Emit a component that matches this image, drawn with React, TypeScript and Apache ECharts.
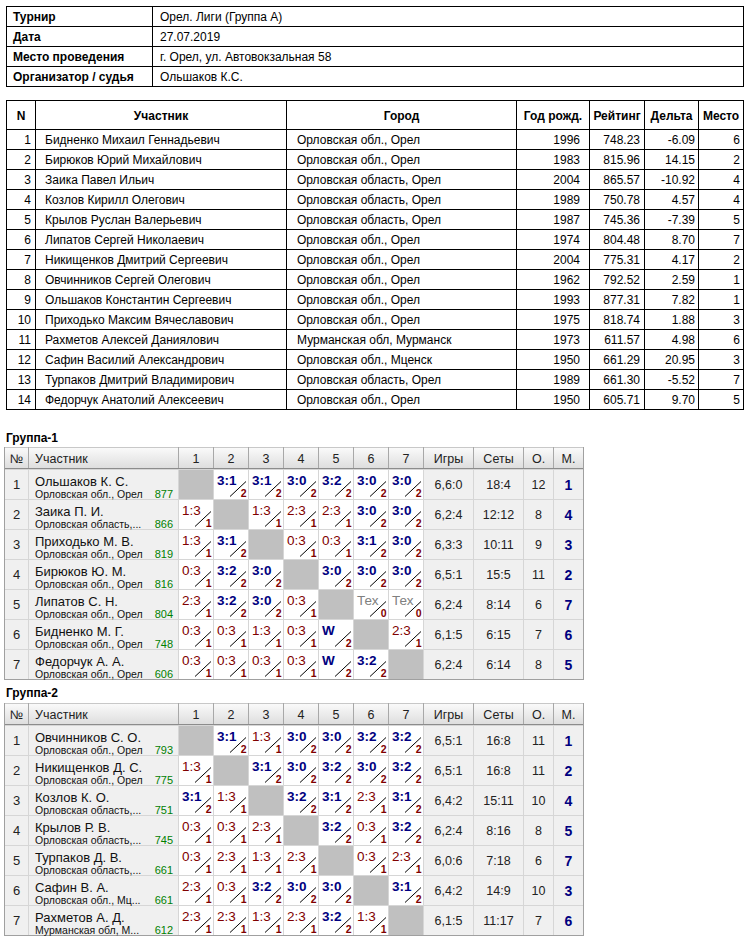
import React, { useEffect, useRef } from "react";
import * as echarts from "echarts";

// ---------- DATA ----------
const infoLabels = ["Турнир", "Дата", "Место проведения", "Организатор / судья"];
const infoValues = ["Орел. Лиги (Группа А)", "27.07.2019", "г. Орел, ул. Автовокзальная 58", "Ольшаков К.С."];

const mainHeaders = ["N", "Участник", "Город", "Год рожд.", "Рейтинг", "Дельта", "Место"];
const mainNames = [
  "Бидненко Михаил Геннадьевич",
  "Бирюков Юрий Михайлович",
  "Заика Павел Ильич",
  "Козлов Кирилл Олегович",
  "Крылов Руслан Валерьевич",
  "Липатов Сергей Николаевич",
  "Никищенков Дмитрий Сергеевич",
  "Овчинников Сергей Олегович",
  "Ольшаков Константин Сергеевич",
  "Приходько Максим Вячеславович",
  "Рахметов Алексей Даниялович",
  "Сафин Василий Александрович",
  "Турпаков Дмитрий Владимирович",
  "Федорчук Анатолий Алексеевич",
];
const mainCities = [
  "Орловская обл., Орел",
  "Орловская обл., Орел",
  "Орловская область, Орел",
  "Орловская область, Орел",
  "Орловская область, Орел",
  "Орловская обл., Орел",
  "Орловская обл., Орел",
  "Орловская обл., Орел",
  "Орловская обл., Орел",
  "Орловская обл., Орел",
  "Мурманская обл, Мурманск",
  "Орловская обл., Мценск",
  "Орловская область, Орел",
  "Орловская обл., Орел",
];
const mainYears = ["1996", "1983", "2004", "1989", "1987", "1974", "2004", "1962", "1993", "1975", "1973", "1950", "1989", "1950"];
const mainRatings = ["748.23", "815.96", "865.57", "750.78", "745.36", "804.48", "775.31", "792.52", "877.31", "818.74", "611.57", "661.29", "661.30", "605.71"];
const mainDeltas = ["-6.09", "14.15", "-10.92", "4.57", "-7.39", "8.70", "4.17", "2.59", "7.82", "1.88", "4.98", "20.95", "-5.52", "9.70"];
const mainPlaces = ["6", "2", "4", "4", "5", "7", "2", "1", "1", "3", "6", "3", "7", "5"];

const groupHeaders = ["№", "Участник", "1", "2", "3", "4", "5", "6", "7", "Игры", "Сеты", "О.", "М."];

const g1Title = "Группа-1";
const g1Names = ["Ольшаков К. С.", "Заика П. И.", "Приходько М. В.", "Бирюков Ю. М.", "Липатов С. Н.", "Бидненко М. Г.", "Федорчук А. А."];
const g1Cities = ["Орловская обл., Орел", "Орловская область,...", "Орловская обл., Орел", "Орловская обл., Орел", "Орловская обл., Орел", "Орловская обл., Орел", "Орловская обл., Орел"];
const g1Ratings = ["877", "866", "819", "816", "804", "748", "606"];
const g1Results = [
  ["", "3:1|2", "3:1|2", "3:0|2", "3:2|2", "3:0|2", "3:0|2"],
  ["1:3|1", "", "1:3|1", "2:3|1", "2:3|1", "3:0|2", "3:0|2"],
  ["1:3|1", "3:1|2", "", "0:3|1", "0:3|1", "3:1|2", "3:0|2"],
  ["0:3|1", "3:2|2", "3:0|2", "", "3:0|2", "3:0|2", "3:0|2"],
  ["2:3|1", "3:2|2", "3:0|2", "0:3|1", "", "Тех|0", "Тех|0"],
  ["0:3|1", "0:3|1", "1:3|1", "0:3|1", "W|2", "", "2:3|1"],
  ["0:3|1", "0:3|1", "0:3|1", "0:3|1", "W|2", "3:2|2", ""],
];
const g1Games = ["6,6:0", "6,2:4", "6,3:3", "6,5:1", "6,2:4", "6,1:5", "6,2:4"];
const g1Sets = ["18:4", "12:12", "10:11", "15:5", "8:14", "6:15", "6:14"];
const g1Points = ["12", "8", "9", "11", "6", "7", "8"];
const g1Places = ["1", "4", "3", "2", "7", "6", "5"];

const g2Title = "Группа-2";
const g2Names = ["Овчинников С. О.", "Никищенков Д. С.", "Козлов К. О.", "Крылов Р. В.", "Турпаков Д. В.", "Сафин В. А.", "Рахметов А. Д."];
const g2Cities = ["Орловская обл., Орел", "Орловская обл., Орел", "Орловская область,...", "Орловская область,...", "Орловская область,...", "Орловская обл., Мц...", "Мурманская обл, М..."];
const g2Ratings = ["793", "775", "751", "745", "661", "661", "612"];
const g2Results = [
  ["", "3:1|2", "1:3|1", "3:0|2", "3:0|2", "3:2|2", "3:2|2"],
  ["1:3|1", "", "3:1|2", "3:0|2", "3:2|2", "3:0|2", "3:2|2"],
  ["3:1|2", "1:3|1", "", "3:2|2", "3:1|2", "2:3|1", "3:1|2"],
  ["0:3|1", "0:3|1", "2:3|1", "", "3:2|2", "0:3|1", "3:2|2"],
  ["0:3|1", "2:3|1", "1:3|1", "2:3|1", "", "0:3|1", "2:3|1"],
  ["2:3|1", "0:3|1", "3:2|2", "3:0|2", "3:0|2", "", "3:1|2"],
  ["2:3|1", "2:3|1", "1:3|1", "2:3|1", "3:2|2", "1:3|1", ""],
];
const g2Games = ["6,5:1", "6,5:1", "6,4:2", "6,2:4", "6,0:6", "6,4:2", "6,1:5"];
const g2Sets = ["16:8", "16:8", "15:11", "8:16", "7:18", "14:9", "11:17"];
const g2Points = ["11", "11", "10", "8", "6", "10", "7"];
const g2Places = ["1", "2", "4", "5", "7", "3", "6"];

// ---------- LAYOUT / STYLE ----------
const FF = "'Liberation Sans', Arial, sans-serif";
const NAVY = "#000080";
const DRED = "#800000";
const GREEN = "#008000";

function buildElements() {
  const els: any[] = [];
  const rect = (x: number, y: number, w: number, h: number, fill: any, z = 1) =>
    els.push({ type: "rect", shape: { x, y, width: w, height: h }, style: { fill }, z, silent: true });
  const seg = (x1: number, y1: number, x2: number, y2: number, stroke: string, z = 4) =>
    els.push({ type: "line", shape: { x1, y1, x2, y2 }, style: { stroke, lineWidth: 1 }, z, silent: true });
  const text = (
    x: number,
    y: number,
    t: string,
    size: number,
    o: { fill?: string; bold?: boolean; align?: string } = {}
  ) =>
    els.push({
      type: "text",
      x,
      y,
      z: 6,
      silent: true,
      style: {
        text: t,
        fill: o.fill || "#000",
        font: `${o.bold ? "bold" : "normal"} ${size}px ${FF}`,
        textAlign: o.align || "left",
        textVerticalAlign: "middle",
        align: o.align || "left",
        verticalAlign: "middle",
      },
    });

  // ---- info table ----
  const iL = 6, iR = 743, iDiv = 152;
  const iRows = [6, 26, 46, 66, 86];
  rect(iL, iRows[0], iR - iL, iRows[4] - iRows[0], "#fff", 0);
  iRows.forEach((y) => rect(iL, y, iR - iL + 1, 1, "#000", 3));
  [iL, iDiv, iR].forEach((x) => rect(x, iRows[0], 1, iRows[4] - iRows[0], "#000", 3));
  infoLabels.forEach((l, i) => {
    const cy = iRows[i] + 10.5;
    text(13, cy, l, 12, { bold: true });
    text(160, cy, infoValues[i], 12);
  });

  // ---- main table ----
  const mCols = [6, 35, 286, 516, 589, 644, 698, 743];
  const mTop = 100, mHead = 129, mRowH = 20;
  const mBottom = mHead + mRowH * mainNames.length;
  rect(mCols[0], mTop, mCols[7] - mCols[0], mBottom - mTop, "#fff", 0);
  rect(mCols[0], mTop, mCols[7] - mCols[0] + 1, 1, "#000", 3);
  for (let i = 0; i <= mainNames.length; i++) rect(mCols[0], mHead + i * mRowH, mCols[7] - mCols[0] + 1, 1, "#000", 3);
  mCols.forEach((x) => rect(x, mTop, 1, mBottom - mTop, "#000", 3));
  mainHeaders.forEach((h, i) => text((mCols[i] + mCols[i + 1]) / 2 + 0.5, (mTop + mHead) / 2 + 1, h, 12, { bold: true, align: "center" }));
  mainNames.forEach((n, i) => {
    const cy = mHead + i * mRowH + 10.5;
    text(31, cy, String(i + 1), 12, { align: "right" });
    text(45, cy, n, 12);
    text(297, cy, mainCities[i], 12);
    text(580, cy, mainYears[i], 12, { align: "right" });
    text(640, cy, mainRatings[i], 12, { align: "right" });
    text(695, cy, mainDeltas[i], 12, { align: "right" });
    text(740, cy, mainPlaces[i], 12, { align: "right" });
  });

  // ---- group tables ----
  const gCols = [4, 28, 178, 213, 248, 283, 318, 353, 388, 423, 473, 523, 553, 583];
  const drawGroup = (
    titleY: number,
    headTop: number,
    title: string,
    names: string[],
    cities: string[],
    ratings: string[],
    results: string[][],
    games: string[],
    sets: string[],
    points: string[],
    places: string[]
  ) => {
    const headBot = headTop + 21;
    const rowTop = headBot + 1;
    const rowH = 30;
    const bottom = rowTop + rowH * names.length;
    const L = gCols[0], R = gCols[gCols.length - 1];
    text(6, titleY, title, 12, { bold: true });
    // header
    rect(L, headTop, R - L, headBot - headTop, new echarts.graphic.LinearGradient(0, 0, 0, 1, [
      { offset: 0, color: "#fbfbfb" },
      { offset: 1, color: "#dedede" },
    ]), 1);
    rect(L, headTop, R - L, 1, "#c8c8c8", 3);
    rect(L, headBot, R - L + 1, 1, "#8c8c8c", 3);
    gCols.forEach((x) => rect(x, headTop, 1, headBot - headTop, "#a8a8a8", 3));
    groupHeaders.forEach((h, i) => {
      const cx = i === 1 ? gCols[1] + 7 : (gCols[i] + gCols[i + 1]) / 2 + 0.5;
      text(cx, (headTop + headBot) / 2 + 1, h, 12.5, { align: i === 1 ? "left" : "center", fill: "#222" });
    });
    // body background = grid colour
    rect(L, rowTop, R - L, bottom - rowTop, "#d6d6d6", 1);
    names.forEach((n, r) => {
      const y = rowTop + r * rowH;
      for (let c = 0; c < gCols.length - 1; c++) {
        let fill = "#f0f0f0";
        if (c >= 2 && c <= 8) fill = c - 2 === r ? "#c0c0c0" : "#ffffff";
        rect(gCols[c] + 1, y + 1, gCols[c + 1] - gCols[c] - 1, rowH - 1, fill, 2);
      }
      text(16.5, y + 15.5, String(r + 1), 13, { align: "center", fill: "#222" });
      text(35, y + 12, n, 13, { fill: "#111" });
      text(35, y + 24.5, cities[r], 10.5, { fill: "#111" });
      text(173, y + 24.5, ratings[r], 11, { fill: GREEN, align: "right" });
      results[r].forEach((res, c) => {
        if (!res) return;
        const [score, pt] = res.split("|");
        const x = gCols[c + 2];
        const win = score === "W" || score.startsWith("3:");
        const isTech = score === "Тех";
        text(x + 4, y + 11, score, 13.5, {
          bold: win,
          fill: isTech ? "#808080" : win ? NAVY : DRED,
        });
        seg(x + 17, y + 27.5, x + 33, y + 12.5, "#000");
        text(x + 33.5, y + 23.5, pt, 10.5, { bold: true, fill: DRED, align: "right" });
      });
      const stats = [games[r], sets[r], points[r]];
      stats.forEach((s, k) => {
        const c = 9 + k;
        text((gCols[c] + gCols[c + 1]) / 2 + 0.5, y + 15.5, s, 12.5, { align: "center", fill: "#222" });
      });
      text((gCols[12] + gCols[13]) / 2 + 0.5, y + 15.5, places[r], 14, { align: "center", bold: true, fill: NAVY });
    });
    // outer border
    rect(L, headTop, 1, bottom - headTop, "#a0a0a0", 3);
    rect(R, headTop, 1, bottom - headTop + 1, "#a0a0a0", 3);
    rect(L, bottom, R - L + 1, 1, "#a0a0a0", 3);
  };

  drawGroup(438, 447, g1Title, g1Names, g1Cities, g1Ratings, g1Results, g1Games, g1Sets, g1Points, g1Places);
  drawGroup(693, 703, g2Title, g2Names, g2Cities, g2Ratings, g2Results, g2Games, g2Sets, g2Points, g2Places);

  return els;
}

export default function App() {
  const ref = useRef<HTMLDivElement>(null);
  useEffect(() => {
    if (!ref.current) return;
    const chart = echarts.init(ref.current, null, { renderer: "svg" });
    chart.setOption({
      animation: false,
      backgroundColor: "#ffffff",
      graphic: { elements: buildElements() },
    });
    return () => chart.dispose();
  }, []);
  return (
    <div
      ref={ref}
      style={{ position: "fixed", left: 0, top: 0, width: 750, height: 938, background: "#fff" }}
    />
  );
}
